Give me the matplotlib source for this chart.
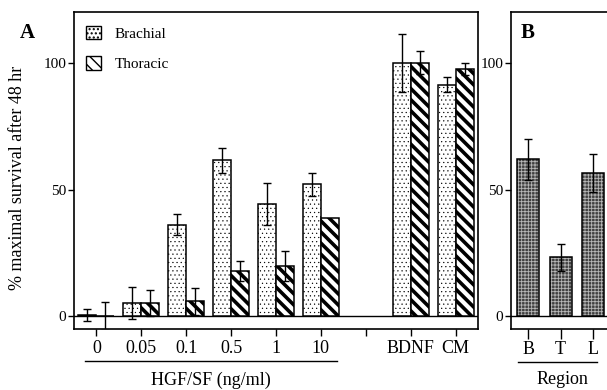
import matplotlib
matplotlib.use("Agg")
import matplotlib.pyplot as plt
import numpy as np
from matplotlib.patches import Patch

plt.rcParams['font.family'] = ['Liberation Serif', 'DejaVu Serif']

# Panel A: HGF/SF dose response
doses = ['0', '0.05', '0.1', '0.5', '1', '10', 'BDNF', 'CM']
brachial = [0.5, 5.3, 36.2, 61.5, 44.3, 52.0, 100.0, 91.3]
brachial_err = [2.5, 6.3, 4.0, 5.0, 8.4, 4.6, 11.5, 3.0]
thoracic = [0.0, 5.3, 5.9, 17.9, 19.9, 38.9, 100.0, 97.5]
thoracic_err = [5.5, 5.0, 5.3, 4.0, 6.0, np.nan, 4.5, 2.5]

# Panel B: region
regions = ['B', 'T', 'L']
region_vals = [61.9, 23.2, 56.4]
region_err = [8.0, 5.5, 7.5]

W, H = 607, 390
fig = plt.figure(figsize=(W / 100, H / 100), dpi=100)
axA = fig.add_axes([74 / W, 61 / H, 404 / W, 317 / H])
axB = fig.add_axes([511 / W, 61 / H, 99 / W, 317 / H])

# positions: leave an empty slot between "10" and the controls
x = np.arange(len(doses), dtype=float)
x[6:] += 1
w = 0.4

dots = '....'
stripes = '\\\\\\'

with plt.rc_context({'hatch.linewidth': 0.35}):
    axA.bar(x - w / 2, brachial, w, facecolor='white', edgecolor='black',
            hatch=dots, linewidth=1.1, zorder=2)
with plt.rc_context({'hatch.linewidth': 2.6}):
    axA.bar(x + w / 2, thoracic, w, facecolor='white', edgecolor='black',
            hatch=stripes, linewidth=1.1, zorder=2)
axA.errorbar(x - w / 2, brachial, yerr=brachial_err, fmt='none', ecolor='black',
             elinewidth=1, capsize=3, capthick=1, zorder=3)
axA.errorbar(x + w / 2, thoracic, yerr=thoracic_err, fmt='none', ecolor='black',
             elinewidth=1, capsize=3, capthick=1, zorder=3)
axA.axhline(0, color='black', lw=1, zorder=1)

axA.set_xlim(-0.5, 8.5)
axA.set_ylim(-5, 120)
axA.set_xticks(np.arange(9))
axA.set_xticklabels(doses[:6] + [''] + doses[6:], fontsize=13)
axA.set_yticks([0, 50, 100])
axA.tick_params(axis='y', labelsize=11, length=4, width=1, pad=1.5)
axA.tick_params(axis='x', length=5, width=1, pad=3)
for s in axA.spines.values():
    s.set_linewidth(1.2)

with plt.rc_context({'hatch.linewidth': 0.35}):
    h1 = Patch(facecolor='white', edgecolor='black', hatch=dots, label='Brachial')
with plt.rc_context({'hatch.linewidth': 2.6}):
    h2 = Patch(facecolor='white', edgecolor='black', hatch=stripes, label='Thoracic')
axA.legend(handles=[h1, h2], loc='upper left', bbox_to_anchor=(-0.005, 1.0),
           frameon=False, fontsize=11, handlelength=1.0, handleheight=1.0,
           labelspacing=1.0, handletextpad=0.9)

# underline + axis title for the doses
axA.plot([-0.25, 5.35], [-0.1, -0.1], color='black', lw=1,
         transform=axA.get_xaxis_transform(), clip_on=False)
fig.text(211 / W, 1 - 380 / H, 'HGF/SF (ng/ml)', ha='center', va='center', fontsize=13)

# Panel B
xb = np.arange(len(regions))
with plt.rc_context({'hatch.linewidth': 0.6}):
    axB.bar(xb, region_vals, 0.68, facecolor='#404040', edgecolor='#b8b8b8',
            hatch='+++++', linewidth=0, zorder=2)
axB.bar(xb, region_vals, 0.68, fill=False, edgecolor='black', linewidth=1.1, zorder=2)
axB.errorbar(xb, region_vals, yerr=region_err, fmt='none', ecolor='black',
             elinewidth=1, capsize=3, capthick=1, zorder=3)
axB.axhline(0, color='black', lw=1, zorder=1)
axB.set_xlim(-0.53, 2.52)
axB.set_ylim(-5, 120)
axB.set_xticks(xb)
axB.set_xticklabels(regions, fontsize=13)
axB.set_yticks([0, 50, 100])
axB.tick_params(axis='y', labelsize=11, length=4, width=1, pad=1.5)
axB.tick_params(axis='x', length=7, width=1, pad=2)
for s in axB.spines.values():
    s.set_linewidth(1.2)
axB.plot([-0.32, 2.12], [-0.104, -0.104], color='black', lw=1,
         transform=axB.get_xaxis_transform(), clip_on=False)
fig.text(562 / W, 1 - 380 / H, 'Region', ha='center', va='center', fontsize=13)

fig.text(18 / W, 1 - 178 / H, '% maximal survival after 48 hr', rotation=90,
         ha='center', va='center', fontsize=13)
fig.text(27 / W, 1 - 33 / H, 'A', fontsize=15, fontweight='bold', ha='center', va='center')
fig.text(528 / W, 1 - 33 / H, 'B', fontsize=15, fontweight='bold', ha='center', va='center')

fig.savefig('out.png', dpi=100)
